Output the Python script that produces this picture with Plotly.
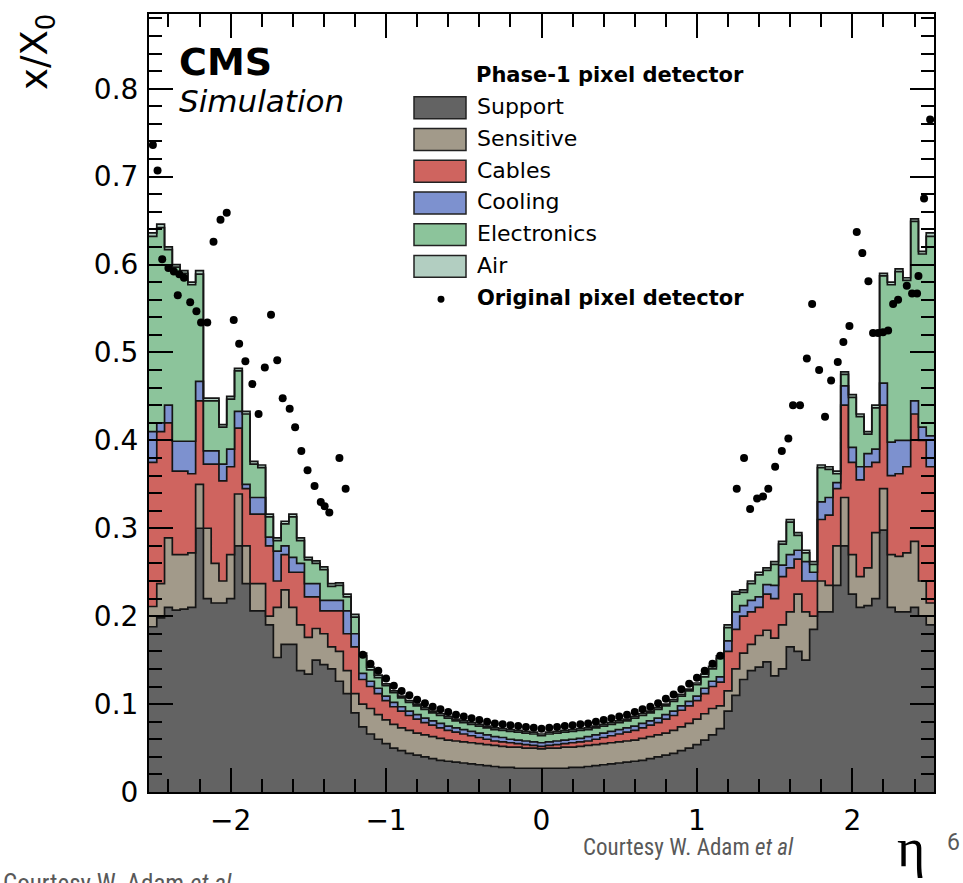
import numpy as np
import plotly.graph_objects as go

# ---------------- data ----------------
# 101 eta bins of width 0.05 (edges -2.525 ... 2.525)
eta_edges = np.round(np.linspace(-2.525, 2.525, 102), 4)

# cumulative top of each stacked layer (x/X0), read bin by bin
top_support = [
    .188, .198, .210, .207, .208, .210, .300, .220, .215, .215,
    .220, .280, .237, .206, .206, .190, .153, .168, .168, .138,
    .134, .150, .145, .140, .126, .112, .090, .074, .066, .060,
    .055, .050, .047, .044, .042, .040, .038, .036, .035, .034,
    .033, .032, .031, .030, .029, .028, .028, .027, .027, .027, .027,
    .027, .027, .027, .028, .028, .029, .030, .031, .032, .033,
    .034, .035, .036, .038, .040, .042, .044, .047, .050, .054,
    .059, .065, .072, .092, .110, .128, .138, .142, .148, .132,
    .140, .165, .160, .150, .185, .205, .205, .235, .280, .225,
    .210, .212, .220, .298, .210, .205, .205, .210, .200, .190]

top_sensitive = [
    .211, .237, .289, .270, .270, .272, .350, .300, .260, .240,
    .270, .339, .280, .237, .237, .200, .210, .230, .210, .190,
    .176, .186, .180, .165, .160, .138, .112, .100, .095, .088,
    .082, .077, .073, .070, .067, .065, .063, .061, .059, .058,
    .057, .056, .055, .054, .053, .052, .051, .051, .050, .050, .049,
    .050, .050, .051, .051, .052, .053, .054, .055, .056, .057,
    .058, .059, .061, .063, .065, .067, .070, .074, .078, .083,
    .089, .095, .098, .115, .140, .158, .168, .178, .184, .175,
    .190, .205, .225, .205, .200, .240, .235, .280, .335, .270,
    .245, .255, .295, .345, .270, .268, .272, .285, .240, .215]

top_cables = [
    .375, .410, .420, .365, .365, .362, .445, .373, .373, .354,
    .370, .414, .345, .316, .316, .280, .240, .270, .250, .250,
    .222, .222, .206, .206, .206, .180, .165, .128, .120, .112,
    .104, .097, .092, .087, .083, .079, .076, .073, .070, .068,
    .066, .064, .062, .060, .058, .057, .056, .055, .054, .053, .052,
    .053, .054, .055, .056, .057, .058, .060, .062, .064, .066,
    .068, .070, .073, .076, .079, .083, .087, .093, .098, .104,
    .112, .120, .125, .160, .185, .200, .205, .210, .225, .220,
    .245, .255, .265, .240, .240, .310, .315, .345, .440, .375,
    .355, .370, .375, .440, .360, .362, .370, .430, .400, .370]

top_cooling = [
    .410, .420, .440, .399, .399, .399, .467, .388, .388, .373,
    .390, .433, .350, .335, .335, .290, .274, .280, .267, .260,
    .237, .237, .218, .218, .218, .206, .180, .135, .126, .118,
    .109, .102, .097, .092, .088, .084, .081, .078, .075, .073,
    .071, .069, .067, .065, .063, .062, .060, .059, .058, .057, .056,
    .057, .058, .059, .060, .061, .063, .065, .067, .069, .071,
    .073, .075, .078, .081, .084, .088, .092, .098, .103, .109,
    .118, .126, .131, .172, .205, .212, .218, .222, .236, .235,
    .258, .270, .275, .262, .250, .330, .335, .352, .462, .392,
    .370, .385, .390, .465, .398, .400, .400, .445, .415, .405]

top_electronics = [
    .632, .642, .617, .597, .590, .577, .589, .445, .445, .415,
    .447, .479, .430, .373, .369, .313, .286, .305, .313, .286,
    .264, .260, .253, .234, .235, .222, .199, .155, .139, .130,
    .121, .113, .107, .102, .098, .094, .090, .087, .084, .081,
    .079, .077, .075, .073, .071, .070, .069, .068, .067, .066, .064,
    .066, .067, .068, .069, .070, .071, .073, .075, .077, .079,
    .081, .084, .087, .090, .094, .098, .103, .109, .115, .122,
    .131, .140, .152, .187, .225, .227, .237, .247, .252, .259,
    .282, .307, .292, .272, .259, .369, .367, .362, .475, .449,
    .427, .407, .437, .587, .577, .592, .582, .649, .612, .632]

# thickness of the (thin) air layer on top
air_layer = [
    .004, .004, .003, .003, .003, .003, .004, .003, .003, .003,
    .003, .003, .003, .003, .003, .003, .003, .003, .003, .003,
    .003, .003, .003, .003, .003, .003, .003, .003, .003, .003,
    .002, .002, .002, .002, .002, .002, .002, .002, .002, .002,
    .002, .002, .002, .002, .002, .002, .002, .002, .002, .002, .002,
    .002, .002, .002, .002, .002, .002, .002, .002, .002, .002,
    .002, .002, .002, .002, .002, .002, .002, .002, .002, .002,
    .003, .003, .003, .003, .003, .003, .003, .003, .003, .003,
    .003, .003, .003, .003, .003, .003, .003, .003, .003, .003,
    .003, .003, .003, .003, .003, .003, .003, .003, .003, .004]

# original pixel detector (points)
orig_eta = [
    -2.50, -2.47, -2.44, -2.40, -2.365, -2.33, -2.30, -2.34, -2.26, -2.22,
    -2.19, -2.15, -2.11, -2.065, -2.025, -1.98, -1.945, -1.905, -1.86, -1.82,
    -1.78, -1.74, -1.70, -1.665, -1.62, -1.585, -1.545, -1.505, -1.46, -1.42,
    -1.395, -1.365, -1.30, -1.26,
    -1.15, -1.10, -1.05, -1.00, -0.95, -0.90, -0.85, -0.80, -0.75, -0.70,
    -0.65, -0.60, -0.55, -0.50, -0.45, -0.40, -0.35, -0.30, -0.25, -0.20,
    -0.15, -0.10, -0.05, 0.00, 0.05, 0.10, 0.15, 0.20, 0.25, 0.30,
    0.35, 0.40, 0.45, 0.50, 0.55, 0.60, 0.65, 0.70, 0.75, 0.80,
    0.85, 0.90, 0.95, 1.00, 1.05, 1.10, 1.15,
    1.256, 1.303, 1.342, 1.387, 1.425, 1.459, 1.503, 1.546, 1.588, 1.618,
    1.663, 1.707, 1.741, 1.786, 1.824, 1.863, 1.906, 1.942, 1.981, 2.028,
    2.064, 2.103, 2.133, 2.165, 2.197, 2.230, 2.262, 2.294, 2.350, 2.384,
    2.416, 2.425, 2.461, 2.500]
orig_val = [
    .736, .707, .606, .596, .592, .589, .585, .565, .557, .547,
    .534, .534, .626, .651, .659, .537, .510, .490, .464, .430,
    .483, .543, .491, .448, .436, .415, .388, .366, .348, .330,
    .325, .318, .380, .345,
    .156, .146, .138, .129, .121, .115, .110, .105, .101, .097,
    .094, .091, .088, .086, .084, .082, .080, .078, .077, .076,
    .075, .074, .073, .072, .073, .074, .075, .076, .077, .078,
    .080, .082, .084, .086, .088, .091, .094, .097, .101, .106,
    .111, .117, .123, .130, .138, .146, .155,
    .345, .380, .322, .334, .336, .345, .370, .388, .402, .440,
    .440, .493, .555, .480, .427, .468, .489, .512, .530, .637,
    .613, .581, .522, .522, .523, .525, .555, .560, .576, .567,
    .567, .587, .675, .765]

layer_names = ["Support", "Sensitive", "Cables", "Cooling", "Electronics", "Air"]
layer_colors = ["#636363", "#a29a8a", "#cf645f", "#7d91cf", "#8cc49b", "#b2cec1"]

eta_tickvals = [-2, -1, 0, 1, 2]
x_tickvals = [0, 0.1, 0.2, 0.3, 0.4, 0.5, 0.6, 0.7, 0.8]

for arr in (top_support, top_sensitive, top_cables, top_cooling, top_electronics, air_layer):
    assert len(arr) == 101, len(arr)
assert len(orig_eta) == len(orig_val)

top_air = list(np.round(np.array(top_electronics) + np.array(air_layer), 4))
tops = [top_support, top_sensitive, top_cables, top_cooling, top_electronics, top_air]

# ---------------- figure ----------------
W, H = 963, 883
ML, MR, MT, MB = 149, 29, 12, 91
PW, PH = W - ML - MR, H - MT - MB


def px(xp):
    return (xp - ML) / PW


def py(yp):
    return (H - MB - yp) / PH


fig = go.Figure()
for i, (name, col, vals) in enumerate(zip(layer_names, layer_colors, tops)):
    fig.add_trace(go.Scatter(
        x=eta_edges, y=list(vals) + [vals[-1]], mode="lines", name=name,
        line=dict(shape="hv", color="#151515", width=1.7),
        fill="tozeroy" if i == 0 else "tonexty", fillcolor=col,
        hoverinfo="skip"))

fig.add_trace(go.Scatter(
    x=orig_eta, y=orig_val, mode="markers", name="Original pixel detector",
    marker=dict(color="black", size=8, line=dict(width=0))))

FONT = "DejaVu Sans"
axis_common = dict(
    ticks="inside", tickwidth=2, tickcolor="black", ticklen=24,
    showline=True, linewidth=2, linecolor="black", mirror="allticks",
    showgrid=False, zeroline=False,
    tickfont=dict(family=FONT, size=28, color="black"))

fig.update_layout(
    width=W, height=H, margin=dict(l=ML, r=MR, t=MT, b=MB),
    plot_bgcolor="white", paper_bgcolor="white", showlegend=False,
    xaxis=dict(range=[-2.525, 2.525], tickvals=eta_tickvals,
               minor=dict(dtick=0.2, tick0=0, ticks="inside", ticklen=13,
                          tickwidth=2, tickcolor="black"),
               ticklabelstandoff=2, **axis_common),
    yaxis=dict(range=[0, 0.885], tickvals=x_tickvals,
               minor=dict(dtick=0.02, tick0=0, ticks="inside", ticklen=13,
                          tickwidth=2, tickcolor="black"),
               ticklabelstandoff=3, **axis_common),
)

ann = []


def add_text(text, x, y, size, family=FONT, color="black", xanchor="left", angle=0):
    ann.append(dict(text=text, x=px(x), y=py(y), xref="paper", yref="paper",
                    xanchor=xanchor, yanchor="middle", textangle=angle,
                    showarrow=False, font=dict(family=family, size=size, color=color)))


# axis titles
add_text("x/X<sub>0</sub>", 37, 50, 37, xanchor="center", angle=-90)
add_text("η", 911, 848, 54, family="Liberation Serif", xanchor="center")
# CMS label
add_text("<b>CMS</b>", 177, 60, 38)
add_text("<i>Simulation</i>", 177, 99, 31)

# legend (drawn manually)
shapes = []
add_text("<b>Phase-1 pixel detector</b>", 474, 73, 21)
leg_y = [106, 137.8, 169.6, 201.4, 233.2, 265]
for name, col, yc in zip(layer_names, layer_colors, leg_y):
    shapes.append(dict(type="rect", xref="paper", yref="paper",
                       x0=px(414), x1=px(466), y0=py(yc + 11), y1=py(yc - 11),
                       fillcolor=col, line=dict(color="#222", width=1.5)))
    add_text(name, 475, yc - 1, 22)
shapes.append(dict(type="circle", xref="paper", yref="paper",
                   x0=px(437.5), x1=px(444.5), y0=py(301.5), y1=py(294.5),
                   fillcolor="black", line=dict(color="black", width=0)))
add_text("<b>Original pixel detector</b>", 475, 296.5, 21)

# slide texts
CFONT = "Roboto Condensed, Liberation Sans Narrow, Roboto"
add_text("Courtesy W. Adam <i>et al</i>", 581, 848, 23, family=CFONT, color="#595959")
add_text("Courtesy W. Adam <i>et al</i>", 1, 884, 25, family=CFONT, color="#595959")
add_text("6", 953, 843, 23, family="Roboto", color="#595959", xanchor="center")

fig.update_layout(annotations=ann, shapes=shapes)
fig.write_html("out.html")
